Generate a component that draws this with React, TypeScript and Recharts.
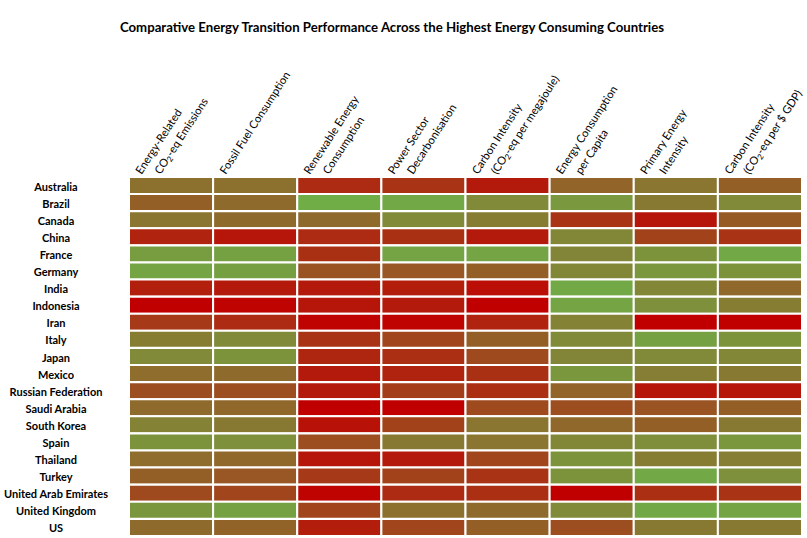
import { Bar, BarChart, Cell, XAxis, YAxis } from "recharts";

const countries = [
  "Australia", "Brazil", "Canada", "China", "France", "Germany", "India",
  "Indonesia", "Iran", "Italy", "Japan", "Mexico", "Russian Federation",
  "Saudi Arabia", "South Korea", "Spain", "Thailand", "Turkey",
  "United Arab Emirates", "United Kingdom", "US",
];

// header lines, "CO2" gets a subscript 2 when drawn
const metricLabels = [
  ["Energy-Related", "CO2-eq Emissions"],
  ["Fossil Fuel Consumption"],
  ["Renewable Energy", "Consumption"],
  ["Power Sector", "Decarbonisation"],
  ["Carbon Intensity", "(CO2-eq per megajoule)"],
  ["Energy Consumption", "per Capita"],
  ["Primary Energy", "Intensity"],
  ["Carbon Intensity", "(CO2-eq per $ GDP)"],
];

// performance scores, 0 = worst (red) .. 100 = best (green)
const emissions = [65, 55, 68, 20, 90, 95, 18, 0, 33, 72, 80, 63, 45, 62, 75, 85, 63, 55, 42, 87, 62];
const fossilFuel = [65, 62, 62, 13, 93, 92, 15, 2, 25, 80, 85, 62, 45, 60, 70, 83, 60, 50, 40, 93, 57];
const renewables = [25, 100, 62, 25, 28, 48, 15, 12, 2, 30, 22, 15, 15, 0, 10, 45, 12, 33, 2, 40, 17];
const powerSector = [30, 97, 80, 28, 95, 50, 17, 15, 2, 40, 27, 20, 35, 0, 38, 70, 15, 38, 25, 65, 40];
const carbonPerMJ = [15, 80, 72, 15, 95, 55, 8, 0, 20, 55, 42, 28, 27, 42, 68, 68, 40, 30, 27, 62, 55];
const energyPerCapita = [58, 88, 30, 78, 77, 78, 97, 95, 75, 80, 77, 87, 58, 45, 60, 78, 85, 85, 0, 80, 45];
const energyIntensity = [68, 70, 13, 38, 85, 87, 78, 83, 0, 93, 80, 73, 13, 48, 55, 82, 72, 97, 27, 97, 70];
const carbonPerGDP = [55, 80, 52, 30, 97, 85, 60, 72, 0, 85, 78, 70, 13, 55, 70, 87, 73, 83, 30, 95, 70];

const metrics = [
  emissions, fossilFuel, renewables, powerSector,
  carbonPerMJ, energyPerCapita, energyIntensity, carbonPerGDP,
];

const rows = countries.map((country, i) => {
  const row: Record<string, string | number> = { country };
  metrics.forEach((m, j) => {
    row["m" + j] = m[i];
  });
  return row;
});

function scoreColor(score: number) {
  const t = score / 100;
  const r = Math.round(192 + (112 - 192) * t);
  const g = Math.round(173 * t);
  const b = Math.round(71 * t);
  return `rgb(${r},${g},${b})`;
}

const font = "Lato, 'Open Sans', sans-serif";

function LabelLine({ text }: { text: string }) {
  const idx = text.indexOf("CO2");
  if (idx < 0) return <>{text}</>;
  return (
    <>
      <tspan>{text.slice(0, idx + 2)}</tspan>
      <tspan fontSize={8} dy={2}>2</tspan>
      <tspan dy={-2}>{text.slice(idx + 3)}</tspan>
    </>
  );
}

const HeaderTick = (props: any) => {
  const { x, payload } = props;
  const lines = metricLabels[payload.value] || [];
  const y0 = 175;
  return (
    <g>
      {lines.map((line, k) => {
        const lx = x + (k === 0 ? 12.5 : 31.5);
        return (
          <text
            key={k}
            x={lx}
            y={y0}
            transform={`rotate(-57, ${lx}, ${y0})`}
            textAnchor="start"
            fontFamily={font}
            fontSize={11.2}
            fill="#000"
          >
            <LabelLine text={line} />
          </text>
        );
      })}
    </g>
  );
};

const CountryTick = (props: any) => {
  const { y, payload } = props;
  return (
    <text
      x={56}
      y={y}
      dy={5}
      textAnchor="middle"
      fontFamily={font}
      fontWeight="bold"
      fontSize={11}
      fill="#000"
    >
      {payload.value}
    </text>
  );
};

export default function App() {
  return (
    <div style={{ position: "absolute", left: 0, top: 0, width: 807, height: 538, background: "#fff" }}>
      <div
        style={{
          position: "absolute",
          left: 0,
          top: 19,
          width: 784,
          textAlign: "center",
          fontFamily: font,
          fontWeight: "bold",
          fontSize: 13.2,
          color: "#000",
        }}
      >
        Comparative Energy Transition Performance Across the Highest Energy Consuming Countries
      </div>
      <BarChart
        width={807}
        height={538}
        data={rows}
        layout="vertical"
        barCategoryGap={0}
        margin={{ top: 147, right: 5, bottom: 2, left: 0 }}
      >
        <XAxis
          orientation="top"
          type="number"
          domain={[0, 8]}
          ticks={[0, 1, 2, 3, 4, 5, 6, 7]}
          interval={0}
          height={30}
          axisLine={false}
          tickLine={false}
          tick={<HeaderTick />}
        />
        <YAxis
          type="category"
          dataKey="country"
          width={129}
          axisLine={false}
          tickLine={false}
          interval={0}
          tick={<CountryTick />}
        />
        {metrics.map((_, j) => (
          <Bar
            key={j}
            stackId="grid"
            dataKey={() => 1}
            isAnimationActive={false}
          >
            {rows.map((row, i) => (
              <Cell
                key={i}
                fill={scoreColor(row["m" + j] as number)}
                stroke="#fff"
                strokeWidth={2}
              />
            ))}
          </Bar>
        ))}
      </BarChart>
    </div>
  );
}
